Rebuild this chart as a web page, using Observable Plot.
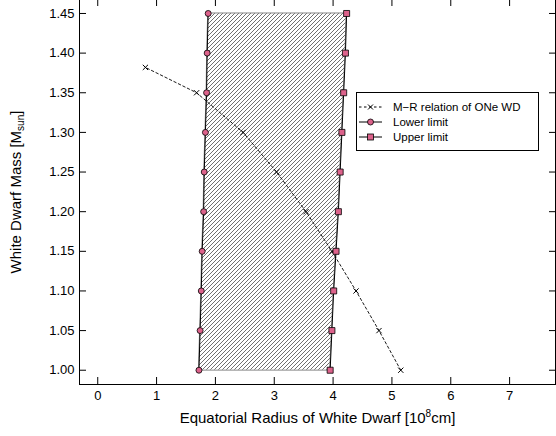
<!DOCTYPE html>
<html>
<head>
<meta charset="utf-8">
<script src="https://cdn.jsdelivr.net/npm/d3@7"></script>
<script src="https://cdn.jsdelivr.net/npm/@observablehq/plot@0.6"></script>
<style>
  html, body { margin: 0; padding: 0; background: #fff; }
  #chart svg { display: block; }
</style>
</head>
<body>
<div id="chart"></div>
<script>
// ---- data ----
const massLevels   = [1.00, 1.05, 1.10, 1.15, 1.20, 1.25, 1.30, 1.35, 1.40, 1.45];
const lowerRadius  = [1.72, 1.74, 1.76, 1.775, 1.80, 1.81, 1.83, 1.85, 1.86, 1.877];
const upperRadius  = [3.95, 3.98, 4.01, 4.05, 4.09, 4.12, 4.15, 4.18, 4.21, 4.23];
const mrMass       = [1.00, 1.05, 1.10, 1.15, 1.20, 1.25, 1.30, 1.35, 1.382];
const mrRadius     = [5.15, 4.78, 4.39, 3.98, 3.54, 3.04, 2.47, 1.68, 0.81];
const xTicks       = [0, 1, 2, 3, 4, 5, 6, 7];
const yTicks       = [1.00, 1.05, 1.10, 1.15, 1.20, 1.25, 1.30, 1.35, 1.40, 1.45];
const legendLabels = ["M\u2212R relation of ONe WD", "Lower limit", "Upper limit"];

const limits = massLevels.map((m, i) => ({mass: m, lower: lowerRadius[i], upper: upperRadius[i]}));
const mr = mrMass.map((m, i) => ({mass: m, radius: mrRadius[i]}));

const pink = "#dc628b";
const blank = () => "";
const font = "'Liberation Sans', Arial, sans-serif";

const svg = Plot.plot({
  width: 556,
  height: 436,
  marginLeft: 79,
  marginRight: 1,
  marginTop: -2,
  marginBottom: 52,
  style: {fontFamily: font, fontSize: "13px", background: "#fff", color: "#000"},
  x: {domain: [-0.31, 7.78]},
  y: {domain: [0.982, 1.4689]},
  marks: [
    Plot.areaX(limits, {x1: "lower", x2: "upper", y: "mass", fill: "url(#hatch)", stroke: "#888", strokeWidth: 1}),
    Plot.line(limits, {x: "lower", y: "mass", stroke: "#000", strokeWidth: 1}),
    Plot.line(limits, {x: "upper", y: "mass", stroke: "#000", strokeWidth: 1}),
    Plot.line(mr, {x: "radius", y: "mass", stroke: "#000", strokeWidth: 0.9, strokeDasharray: "2.5,2.5"}),
    Plot.dot(mr, {x: "radius", y: "mass", symbol: "times", r: 2.5, stroke: "#000", strokeWidth: 1}),
    Plot.dot(limits, {x: "lower", y: "mass", symbol: "circle", r: 3, fill: pink, stroke: "#000", strokeWidth: 0.8}),
    Plot.dot(limits, {x: "upper", y: "mass", symbol: "square", r: 3.4, fill: pink, stroke: "#000", strokeWidth: 0.8}),
    Plot.frame({stroke: "#000", strokeWidth: 1}),
    Plot.axisX({anchor: "bottom", ticks: xTicks, tickSize: -7, tickPadding: 13, label: null, fontSize: 13}),
    Plot.axisX({anchor: "top", ticks: xTicks, tickSize: -7, tickFormat: blank, label: null}),
    Plot.axisY({anchor: "left", ticks: yTicks, tickSize: -7, tickPadding: 12, tickFormat: d3.format(".2f"), label: null, fontSize: 13}),
    Plot.axisY({anchor: "right", ticks: yTicks, tickSize: -7, tickFormat: blank, label: null})
  ]
});

document.getElementById("chart").appendChild(svg);
const s = d3.select(svg);

// hatch pattern
const defs = s.insert("defs", ":first-child");
const pat = defs.append("pattern")
  .attr("id", "hatch").attr("patternUnits", "userSpaceOnUse")
  .attr("width", 4).attr("height", 4);
pat.append("rect").attr("width", 4).attr("height", 4).attr("fill", "#fff");
pat.append("path").attr("d", "M-1,1 l2,-2 M0,4 l4,-4 M3,5 l2,-2")
  .attr("stroke", "#707070").attr("stroke-width", 1);

// x axis title (centred by measuring)
const xt = s.append("text")
  .attr("x", 0).attr("y", 423)
  .attr("text-anchor", "start").attr("font-family", font).attr("font-size", 15).attr("fill", "#000");
xt.append("tspan").text("Equatorial Radius of White Dwarf [10");
xt.append("tspan").attr("font-size", 10).attr("dy", -6).text("8");
xt.append("tspan").attr("dy", 6).text("cm]");
{
  const w = xt.node().getBBox().width;
  xt.attr("x", 317.5 - w / 2);
}

// y axis title
const yt = s.append("text")
  .attr("text-anchor", "start").attr("font-family", font).attr("font-size", 15).attr("fill", "#000");
yt.append("tspan").text("White Dwarf Mass [M");
yt.append("tspan").attr("font-size", 10).attr("dy", 3).text("sun");
yt.append("tspan").attr("dy", -3).text("]");
{
  const w = yt.node().getBBox().width;
  yt.attr("transform", `translate(21,${192 + w / 2}) rotate(-90)`);
}

// legend
const lg = s.append("g").attr("font-family", font).attr("font-size", 11.5).attr("text-anchor", "start");
lg.append("rect").attr("x", 356.5).attr("y", 92.5).attr("width", 182).attr("height", 58)
  .attr("fill", "#fff").attr("stroke", "#000").attr("stroke-width", 1);
const rowsY = [107, 122, 137];
rowsY.forEach((yy, i) => {
  const g = lg.append("g");
  g.append("line").attr("x1", 359).attr("x2", 382).attr("y1", yy).attr("y2", yy)
    .attr("stroke", "#000").attr("stroke-width", 1)
    .attr("stroke-dasharray", i === 0 ? "2.5,2.5" : null);
  if (i === 0) {
    g.append("path").attr("d", `M${368},${yy-2.5} l5,5 M${368},${yy+2.5} l5,-5`).attr("stroke", "#000").attr("stroke-width", 1);
  } else if (i === 1) {
    g.append("circle").attr("cx", 370.5).attr("cy", yy).attr("r", 3).attr("fill", pink).attr("stroke", "#000").attr("stroke-width", 0.8);
  } else {
    g.append("rect").attr("x", 367.5).attr("y", yy - 3).attr("width", 6).attr("height", 6).attr("fill", pink).attr("stroke", "#000").attr("stroke-width", 0.8);
  }
  g.append("text").attr("x", 393).attr("y", yy).attr("dy", "0.35em").attr("fill", "#000").text(legendLabels[i]);
});
</script>
</body>
</html>
